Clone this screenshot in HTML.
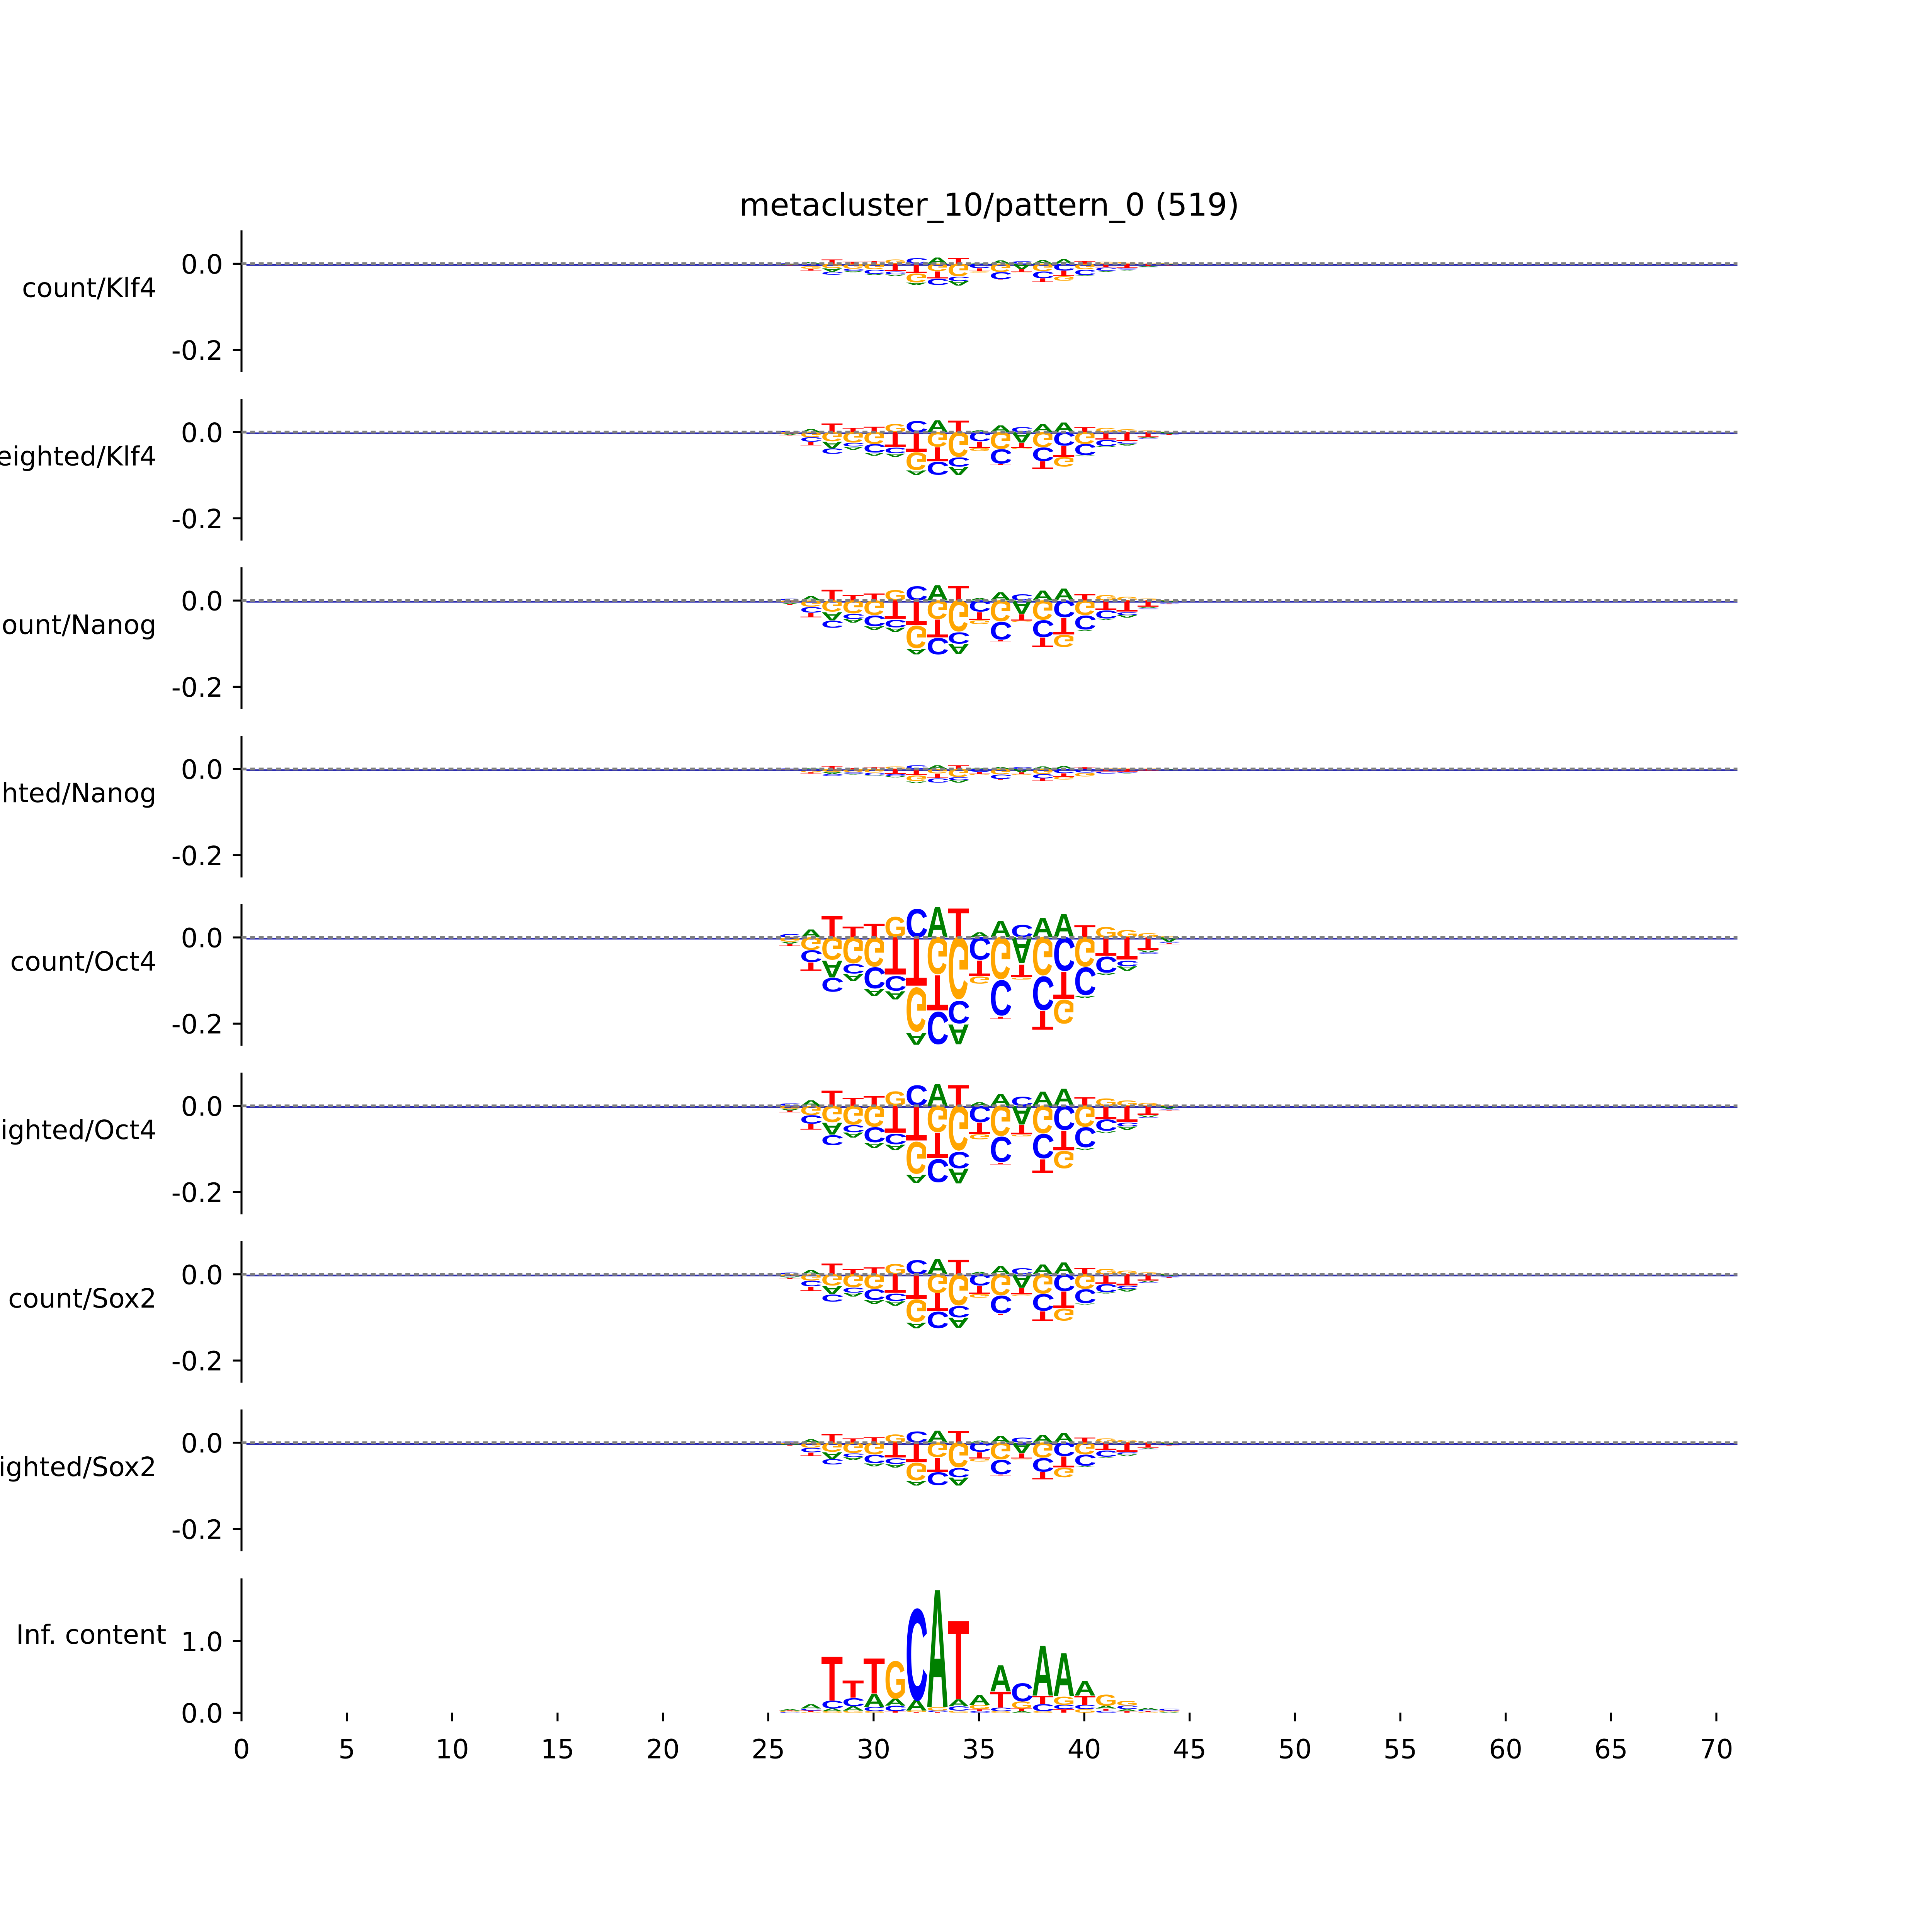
<!DOCTYPE html>
<html><head><meta charset="utf-8"><style>
html,body{margin:0;padding:0;background:#fff;overflow:hidden;width:100vw;height:100vh;}
svg{display:block;width:100vw;height:100vh;}
text{font-family:"DejaVu Sans","Liberation Sans",sans-serif;}
.logo{font-family:"Liberation Sans",sans-serif;font-weight:bold;}
</style></head>
<body>
<svg id="chart" xmlns="http://www.w3.org/2000/svg" viewBox="0 0 1568 1568" preserveAspectRatio="xMinYMin meet">
<rect x="0" y="0" width="1568" height="1568" fill="#fff"/>
<text x="803" y="175" font-size="25.5" text-anchor="middle">metacluster_10/pattern_0 (519)</text>
<g id="plots"></g>
</svg>
<script>
const positions = [26,27,28,29,30,31,32,33,34,35,36,37,38,39,40,41,42,43,44];
const xTicks = [0,5,10,15,20,25,30,35,40,45,50,55,60,65,70];
const panelLabels = ["count/Klf4","weighted/Klf4","count/Nanog","weighted/Nanog","count/Oct4","weighted/Oct4","count/Sox2","weighted/Sox2","Inf. content"];
const contribTicks = [0.0,-0.2];
const icTicks = [0.0,1.0];

// Oct4 count
const oct4CountA = [-0.005,0.019,-0.04,-0.017,-0.017,-0.02,-0.028,0.073,-0.048,0.012,0.04,-0.063,0.047,0.057,-0.005,-0.005,-0.011,-0.005,-0.01];
const oct4CountC = [0.008,-0.028,-0.033,-0.023,-0.05,-0.035,0.068,-0.077,-0.054,-0.054,-0.084,0.03,-0.08,-0.08,-0.066,-0.038,-0.013,-0.003,-0.003];
const oct4CountG = [-0.01,-0.03,-0.054,-0.062,-0.07,0.049,-0.105,-0.088,-0.148,-0.017,-0.1,-0.005,-0.091,-0.057,-0.07,0.025,0.018,0.01,0.003];
const oct4CountT = [-0.005,-0.02,0.052,0.026,0.033,-0.09,-0.117,-0.085,0.07,-0.037,-0.005,-0.03,-0.045,-0.065,0.029,-0.045,-0.054,-0.03,-0.003];
// Oct4 weighted
const oct4WA = [-0.004,0.014,-0.029,-0.012,-0.012,-0.014,-0.02,0.053,-0.035,0.009,0.029,-0.045,0.034,0.041,-0.004,-0.004,-0.008,-0.004,-0.007];
const oct4WC = [0.006,-0.02,-0.024,-0.017,-0.036,-0.025,0.049,-0.055,-0.039,-0.039,-0.06,0.022,-0.058,-0.058,-0.048,-0.027,-0.009,-0.002,-0.002];
const oct4WG = [-0.007,-0.022,-0.039,-0.045,-0.05,0.035,-0.076,-0.063,-0.107,-0.012,-0.072,-0.004,-0.066,-0.041,-0.05,0.018,0.013,0.007,0.002];
const oct4WT = [-0.004,-0.014,0.037,0.019,0.024,-0.065,-0.084,-0.061,0.05,-0.027,-0.004,-0.022,-0.032,-0.047,0.021,-0.032,-0.039,-0.022,-0.002];
// Nanog / Sox2 count
const midA = [-0.003,0.01,-0.02,-0.009,-0.009,-0.01,-0.014,0.037,-0.024,0.006,0.02,-0.032,0.024,0.029,-0.003,-0.003,-0.006,-0.003,-0.005];
const midC = [0.004,-0.014,-0.017,-0.012,-0.025,-0.018,0.034,-0.039,-0.027,-0.027,-0.042,0.015,-0.04,-0.04,-0.033,-0.019,-0.007,-0.002,-0.002];
const midG = [-0.005,-0.015,-0.027,-0.031,-0.035,0.025,-0.053,-0.044,-0.074,-0.009,-0.05,-0.003,-0.046,-0.029,-0.035,0.013,0.009,0.005,0.002];
const midT = [-0.003,-0.01,0.026,0.013,0.017,-0.045,-0.059,-0.043,0.035,-0.019,-0.003,-0.015,-0.023,-0.04,0.015,-0.023,-0.027,-0.015,-0.002];
// Klf4 / Sox2 weighted
const lowA = [-0.002,0.008,-0.016,-0.007,-0.007,-0.008,-0.011,0.029,-0.019,0.005,0.016,-0.025,0.019,0.023,-0.002,-0.002,-0.004,-0.002,-0.004];
const lowC = [0.003,-0.011,-0.013,-0.009,-0.02,-0.014,0.027,-0.031,-0.022,-0.022,-0.034,0.012,-0.032,-0.032,-0.026,-0.015,-0.005,-0.001,-0.001];
const lowG = [-0.004,-0.012,-0.022,-0.025,-0.028,0.02,-0.042,-0.035,-0.059,-0.007,-0.04,-0.002,-0.036,-0.023,-0.028,0.01,0.007,0.004,0.001];
const lowT = [-0.002,-0.008,0.021,0.01,0.013,-0.036,-0.047,-0.034,0.028,-0.015,-0.002,-0.012,-0.018,-0.026,0.012,-0.018,-0.022,-0.012,-0.001];
// Klf4 count
const klfCA = [-0.001,0.004,-0.008,-0.003,-0.003,-0.004,-0.006,0.015,-0.01,0.002,0.008,-0.013,0.009,0.011,-0.001,-0.001,-0.002,-0.001,-0.002];
const klfCC = [0.002,-0.006,-0.007,-0.005,-0.01,-0.007,0.014,-0.015,-0.011,-0.011,-0.017,0.006,-0.016,-0.016,-0.013,-0.008,-0.003,-0.001,-0.001];
const klfCG = [-0.002,-0.006,-0.011,-0.012,-0.014,0.01,-0.021,-0.018,-0.03,-0.003,-0.02,-0.001,-0.018,-0.011,-0.014,0.005,0.004,0.002,0.001];
const klfCT = [-0.001,-0.004,0.01,0.005,0.007,-0.018,-0.023,-0.017,0.014,-0.007,-0.001,-0.006,-0.009,-0.013,0.006,-0.009,-0.011,-0.006,-0.001];
// Nanog weighted
const nanWA = [0,0.002,-0.005,-0.002,-0.002,-0.003,-0.004,0.009,-0.006,0.002,0.005,-0.008,0.006,0.007,0,0,-0.001,0,-0.001];
const nanWC = [0.001,-0.004,-0.004,-0.003,-0.006,-0.005,0.009,-0.01,-0.007,-0.007,-0.011,0.004,-0.01,-0.01,-0.009,-0.005,-0.002,0,0];
const nanWG = [-0.001,-0.004,-0.007,-0.008,-0.009,0.006,-0.014,-0.011,-0.019,-0.002,-0.013,-0.001,-0.012,-0.007,-0.009,0.003,0.002,0.001,0];
const nanWT = [0,-0.003,0.007,0.003,0.004,-0.012,-0.015,-0.011,0.009,-0.005,-0.001,-0.004,-0.006,-0.008,0.004,-0.006,-0.007,-0.004,0];
// Information content
const icA = [0.02,0.06,0.04,0.06,0.19,0.1,0.15,1.71,0.1,0.14,0.38,0.02,0.73,0.63,0.21,0.04,0.03,0.03,0.01];
const icC = [0.01,0.03,0.11,0.12,0.06,0.08,1.32,0.02,0.06,0.02,0.05,0.26,0.1,0.06,0.06,0.03,0.05,0.02,0.03];
const icG = [0.01,0.01,0.02,0.03,0.02,0.54,0.02,0.05,0.03,0.06,0.02,0.1,0.02,0.12,0.05,0.16,0.07,0.01,0.01];
const icT = [0.01,0.02,0.64,0.25,0.51,0.02,0.01,0.01,1.14,0.03,0.23,0.04,0.12,0.05,0.13,0.03,0.02,0.01,0.01];

const panelSeries = [
  [klfCA,klfCC,klfCG,klfCT],
  [lowA,lowC,lowG,lowT],
  [midA,midC,midG,midT],
  [nanWA,nanWC,nanWG,nanWT],
  [oct4CountA,oct4CountC,oct4CountG,oct4CountT],
  [oct4WA,oct4WC,oct4WG,oct4WT],
  [midA,midC,midG,midT],
  [lowA,lowC,lowG,lowT],
  [icA,icC,icG,icT]
];

const NS = "http://www.w3.org/2000/svg";
const plots = document.getElementById('plots');
const bases = ['A','C','G','T'];
const colors = {A:'#008000',C:'#0000ff',G:'#ffa500',T:'#ff0000'};
const adv = {A:68,C:66,G:72,T:58};
const CAP = 72;
const X0 = 196, UX = 17.1;
function xs(v){ return X0 + v*UX; }

function mk(tag, attrs){ const e=document.createElementNS(NS,tag); for(const k in attrs) e.setAttribute(k,attrs[k]); return e; }

function drawLetter(g, base, pos, yA, yB, flip){
  const h = Math.abs(yB - yA);
  if (h < 0.3) return;
  const w = UX*0.98;
  const t = mk('text',{x:0,y:0,'font-size':100,fill:colors[base],class:'logo',
    transform:`translate(${xs(pos)-w/2},${yA}) scale(${w/adv[base]},${(flip?-1:1)*h/CAP})`});
  t.textContent = base;
  
  
  g.appendChild(t);
}

for (let p=0;p<9;p++){
  const isIC = p===8;
  const y0 = isIC ? 1390 : 214 + 136.7*p;
  const scale = isIC ? 58 : 350;
  const yTop = isIC ? 1281 : y0 - 27;
  const yBot = isIC ? 1390 : y0 + 88;
  const ys = v => y0 - v*scale;
  const g = mk('g',{});
  
  
  plots.appendChild(g);

  const lab = mk('text',{x: isIC?135:127, y: isIC?1334:y0+27, 'font-size':21.5, 'text-anchor':'end'});
  lab.textContent = panelLabels[p];
  
  
  g.appendChild(lab);

  const sp = mk('line',{x1:X0,x2:X0,y1:yTop,y2:yBot,stroke:'#000','stroke-width':1.6});
  
  
  g.appendChild(sp);

  const ticks = isIC ? icTicks : contribTicks;
  ticks.forEach(tv=>{
    const ty = ys(tv);
    const tk = mk('line',{x1:X0-7,x2:X0,y1:ty,y2:ty,stroke:'#000','stroke-width':1.6});
    
    
    g.appendChild(tk);
    const tl = mk('text',{x:X0-15,y:ty+8,'font-size':21.5,'text-anchor':'end'});
    tl.textContent = tv.toFixed(1);
    
    
    g.appendChild(tl);
  });

  if (!isIC){
    const base = mk('line',{x1:X0+4,x2:xs(71),y1:y0+1,y2:y0+1,stroke:'#2a2ab0','stroke-width':1.4});
    
    
    g.appendChild(base);
  }

  const ser = panelSeries[p];
  positions.forEach((pos,i)=>{
    const vals = bases.map((b,k)=>({b, v: ser[k][i]}));
    const pos_ = vals.filter(d=>d.v>0).sort((a,b)=>a.v-b.v);
    let acc = 0;
    pos_.forEach(d=>{ drawLetter(g,d.b,pos,ys(acc),ys(acc+d.v),false); acc+=d.v; });
    const negSorted = vals.filter(d=>d.v<0).sort((a,b)=>a.v-b.v);
    acc = 0;
    negSorted.forEach(d=>{ drawLetter(g,d.b,pos,ys(acc),ys(acc+d.v),true); acc+=d.v; });
  });

  if (!isIC){
    const dl = mk('line',{x1:X0,x2:xs(71),y1:y0,y2:y0,stroke:'#808080','stroke-width':2.2,'stroke-dasharray':'4,3'});
    
    
    g.appendChild(dl);
  } else {
    xTicks.forEach(tv=>{
      const tk = mk('line',{x1:xs(tv),x2:xs(tv),y1:1390,y2:1397,stroke:'#000','stroke-width':1.6});
      
      
      g.appendChild(tk);
      const tl = mk('text',{x:xs(tv),y:1427,'font-size':21.5,'text-anchor':'middle'});
      tl.textContent = String(tv);
      
      
      g.appendChild(tl);
    });
  }
}
</script>
</body></html>
